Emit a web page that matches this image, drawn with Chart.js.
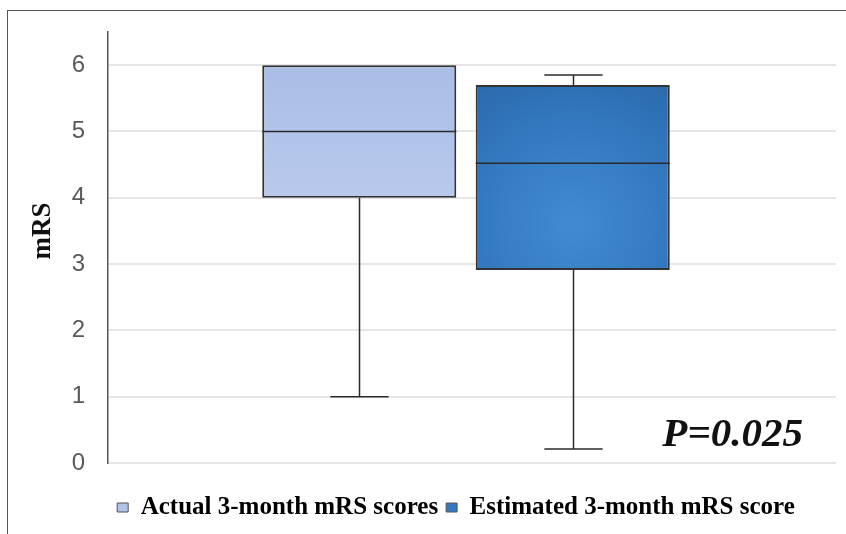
<!DOCTYPE html>
<html>
<head>
<meta charset="utf-8">
<script src="https://cdn.jsdelivr.net/npm/chart.js@4.4.1/dist/chart.umd.min.js"></script>
<style>
  html, body { margin: 0; padding: 0; background: #fff; }
  #wrap { position: relative; width: 846px; height: 534px; }
  #frame { position: absolute; left: 7px; top: 10px; right: 0; bottom: 0;
           border-left: 1px solid #555; border-top: 1px solid #555; }
  canvas { position: absolute; left: 0; top: 0; }
</style>
</head>
<body>
<div id="wrap">
  <div id="frame"></div>
  <canvas id="chart" width="846" height="534"></canvas>
</div>
<script>
// box plot data
const groups = ['Actual 3-month mRS scores', 'Estimated 3-month mRS score'];
const mins = [1, 0.21];
const q1s = [4, 2.91];
const medians = [5, 4.52];
const q3s = [6, 5.70];
const maxs = [6, 5.85];
const yTicks = [0, 1, 2, 3, 4, 5, 6];
const pValue = 'P=0.025';

const legendColors = ['#b0c3e8', '#3479c0'];

// box fills are gradients, built once the bars have their final geometry
const boxPlot = {
  id: 'boxPlot',
  afterLayout(chart) {
    // legend sits a bit right of the canvas centre in the original
    chart.legend.left += 76;
    // and the box pair sits a little left of the plot centre
    chart.scales.x._startPixel -= 6;
  },
  beforeDatasetsDraw(chart) {
    const c = chart.ctx;
    groups.forEach((g, i) => {
      const bar = chart.getDatasetMeta(i).data[0];
      const top = Math.min(bar.y, bar.base), bot = Math.max(bar.y, bar.base);
      let grad;
      if (i === 0) {
        grad = c.createLinearGradient(0, top, 0, bot);
        grad.addColorStop(0, '#a9bde6');
        grad.addColorStop(1, '#b8c9ec');
      } else {
        const h = bot - top;
        const cy = top + h * 0.75;
        grad = c.createRadialGradient(bar.x, cy, 0, bar.x, cy, h * 0.95);
        grad.addColorStop(0, '#418cd1');
        grad.addColorStop(0.55, '#3479c0');
        grad.addColorStop(1, '#2a68aa');
      }
      bar.options.backgroundColor = grad;
    });
  },
  afterDatasetsDraw(chart) {
    const c = chart.ctx;
    const y = chart.scales.y;
    c.save();
    c.strokeStyle = '#2b2b2b';
    c.lineWidth = 1.5;
    groups.forEach((g, i) => {
      const bar = chart.getDatasetMeta(i).data[0];
      const x = Math.round(bar.x) + 0.5;
      const half = bar.width / 2;
      const cap = bar.width * 0.15;
      const med = y.getPixelForValue(medians[i]);
      c.beginPath();
      c.moveTo(bar.x - half, med);
      c.lineTo(bar.x + half, med);
      c.stroke();
      if (mins[i] < q1s[i]) {
        const a = y.getPixelForValue(q1s[i]);
        const b = y.getPixelForValue(mins[i]);
        c.beginPath();
        c.moveTo(x, a); c.lineTo(x, b);
        c.moveTo(x - cap, b); c.lineTo(x + cap, b);
        c.stroke();
      }
      if (maxs[i] > q3s[i]) {
        const a = y.getPixelForValue(q3s[i]);
        const b = y.getPixelForValue(maxs[i]);
        c.beginPath();
        c.moveTo(x, a); c.lineTo(x, b);
        c.moveTo(x - cap, b); c.lineTo(x + cap, b);
        c.stroke();
      }
    });
    // axis title
    c.fillStyle = '#111';
    c.font = 'bold 27px "Liberation Serif", "Times New Roman", serif';
    c.textAlign = 'center';
    c.textBaseline = 'middle';
    c.translate(43, chart.chartArea.top + 199);
    c.rotate(-Math.PI / 2);
    c.fillText('mRS', 0, 0);
    c.restore();
    // p value
    c.save();
    c.fillStyle = '#111';
    c.font = 'italic bold 41px "Liberation Serif", "Times New Roman", serif';
    c.textAlign = 'right';
    c.textBaseline = 'alphabetic';
    c.fillText(pValue, chart.chartArea.right - 33, chart.chartArea.bottom - 17);
    c.restore();
  }
};

new Chart(document.getElementById('chart'), {
  type: 'bar',
  data: {
    labels: [''],
    datasets: groups.map((g, i) => ({
      label: g,
      data: [[q1s[i], q3s[i]]],
      backgroundColor: legendColors[i],
      borderColor: '#333',
      borderWidth: 2,
      borderSkipped: false,
      categoryPercentage: 0.5865,
      barPercentage: 0.909
    }))
  },
  options: {
    responsive: false,
    animation: false,
    layout: { padding: { left: 0, right: 10, top: 32, bottom: 4 } },
    plugins: {
      tooltip: { enabled: false },
      legend: {
        position: 'bottom',
        labels: {
          padding: 8,
          boxWidth: 11,
          boxHeight: 9,
          color: '#333',
          font: { family: '"Liberation Serif", "Times New Roman", serif', size: 25, weight: 'bold' },
          generateLabels: () => groups.map((g, i) => ({
            text: g,
            fillStyle: legendColors[i],
            strokeStyle: '#555',
            lineWidth: 1,
            datasetIndex: i
          }))
        }
      }
    },
    scales: {
      x: {
        display: true,
        afterFit: (s) => { s.height = 24; s.paddingLeft = 0; s.paddingRight = 0; },
        grid: { display: false },
        border: { display: false },
        ticks: { display: false }
      },
      y: {
        min: 0,
        max: 6.5,
        afterFit: (s) => { s.width = 108; s.paddingTop = 0; s.paddingBottom = 0; },
        afterBuildTicks: (s) => { s.ticks = yTicks.map(v => ({ value: v })); },
        border: { display: true, color: '#555', width: 1.5 },
        grid: { color: '#e6e6e6', lineWidth: 2, drawTicks: false },
        ticks: {
          padding: 23,
          color: '#595959',
          font: { family: '"Liberation Sans", Arial, sans-serif', size: 24 }
        }
      }
    }
  },
  plugins: [boxPlot]
});
</script>
</body>
</html>
